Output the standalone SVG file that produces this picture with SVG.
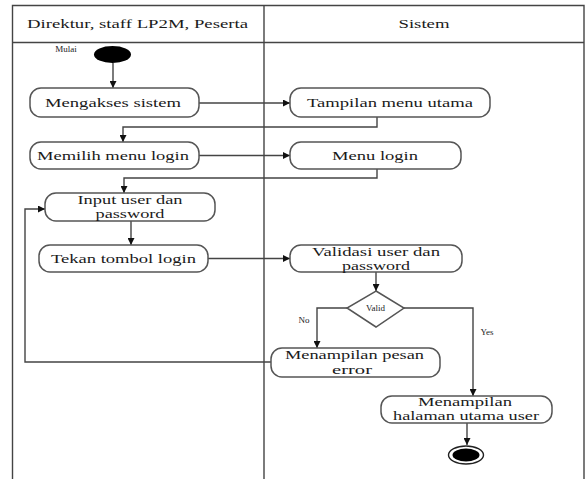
<svg xmlns="http://www.w3.org/2000/svg" width="585" height="479" viewBox="0 0 585 479" font-family="'Liberation Serif', 'Times New Roman', serif">
<defs>
<marker id="ah" viewBox="0 0 10 10" refX="10" refY="5" markerWidth="7" markerHeight="7" markerUnits="userSpaceOnUse" orient="auto">
<path d="M0,0 L10,5 L0,10 z" fill="#111"/>
</marker>
<style>
.lane{fill:none;stroke:#444;stroke-width:1.4}
.act{fill:#fff;stroke:#555;stroke-width:1.5}
text{font-family:'Liberation Serif','Times New Roman',serif}
.t{font-size:13px;fill:#1a1a1a;text-anchor:middle}
.s{font-size:9px;fill:#222;text-anchor:middle}
.ca{fill:none;stroke:#444;stroke-width:1.4;marker-end:url(#ah)}
</style>
</defs>
<rect width="585" height="479" fill="#fff"/>
<g id="swimlanes">
<path class="lane" d="M12.5,479 V5.5 H584 V479"/>
<line class="lane" x1="12" y1="42.5" x2="584" y2="42.5"/>
<line class="lane" x1="264" y1="5" x2="264" y2="479"/>
<text class="t" x="137.5" y="28" textLength="221" lengthAdjust="spacingAndGlyphs">Direktur, staff LP2M, Peserta</text>
<text class="t" x="424" y="28" textLength="51" lengthAdjust="spacingAndGlyphs">Sistem</text>
</g>
<g id="connectors">
<line class="ca" x1="113" y1="63" x2="113" y2="88"/>
<line class="ca" x1="199" y1="103" x2="290" y2="103"/>
<path class="ca" d="M377,117 V127 H123 V142"/>
<line class="ca" x1="199" y1="155.5" x2="290" y2="155.5"/>
<path class="ca" d="M377,169 V178 H124 V193"/>
<line class="ca" x1="131" y1="221" x2="131" y2="245"/>
<line class="ca" x1="208" y1="258.5" x2="290" y2="258.5"/>
<line class="ca" x1="376" y1="272" x2="376" y2="291"/>
<path class="ca" d="M347,308 H317 V348"/>
<path class="ca" d="M404,308 H473 V396"/>
<path class="ca" d="M271,362 H25 V209 H45"/>
<line class="ca" x1="467" y1="423" x2="467" y2="445"/>
<text class="s" x="304" y="323">No</text>
<text class="s" x="487" y="335">Yes</text>
</g>
<g id="start">
<ellipse cx="112.5" cy="54.5" rx="18.5" ry="8.5" fill="#000"/>
<text class="s" x="66" y="52">Mulai</text>
</g>
<g id="mengakses">
<rect class="act" x="30" y="88" width="169" height="29" rx="11"/>
<text class="t" x="113" y="107" textLength="136" lengthAdjust="spacingAndGlyphs">Mengakses sistem</text>
</g>
<g id="tampilan">
<rect class="act" x="290" y="88" width="200" height="29" rx="11"/>
<text class="t" x="390" y="107" textLength="166" lengthAdjust="spacingAndGlyphs">Tampilan menu utama</text>
</g>
<g id="memilih">
<rect class="act" x="30" y="142" width="169" height="27" rx="11"/>
<text class="t" x="113" y="160" textLength="152" lengthAdjust="spacingAndGlyphs">Memilih menu login</text>
</g>
<g id="menulogin">
<rect class="act" x="290" y="142" width="171" height="27" rx="11"/>
<text class="t" x="375" y="160" textLength="86" lengthAdjust="spacingAndGlyphs">Menu login</text>
</g>
<g id="input">
<rect class="act" x="45" y="193" width="170" height="28" rx="11"/>
<text class="t" x="130" y="204" textLength="105" lengthAdjust="spacingAndGlyphs">Input user dan</text>
<text class="t" x="130" y="218" textLength="69" lengthAdjust="spacingAndGlyphs">password</text>
</g>
<g id="tekan">
<rect class="act" x="39" y="245" width="169" height="27" rx="11"/>
<text class="t" x="123.5" y="263" textLength="145" lengthAdjust="spacingAndGlyphs">Tekan tombol login</text>
</g>
<g id="validasi">
<rect class="act" x="290" y="245" width="172" height="27" rx="11"/>
<text class="t" x="376" y="256" textLength="128" lengthAdjust="spacingAndGlyphs">Validasi user dan</text>
<text class="t" x="376" y="270" textLength="68" lengthAdjust="spacingAndGlyphs">password</text>
</g>
<g id="valid">
<path class="act" d="M376,291 L404,308 L376,327 L347,308 z"/>
<text class="s" x="375.5" y="311">Valid</text>
</g>
<g id="error">
<rect class="act" x="271" y="348" width="169" height="29" rx="11"/>
<text class="t" x="354.5" y="359" textLength="139" lengthAdjust="spacingAndGlyphs">Menampilan pesan</text>
<text class="t" x="352" y="374" textLength="40" lengthAdjust="spacingAndGlyphs">error</text>
</g>
<g id="halaman">
<rect class="act" x="381" y="396" width="171" height="27" rx="11"/>
<text class="t" x="465" y="406" textLength="94" lengthAdjust="spacingAndGlyphs">Menampilan</text>
<text class="t" x="466" y="420" textLength="146" lengthAdjust="spacingAndGlyphs">halaman utama user</text>
</g>
<g id="end">
<ellipse cx="466" cy="455" rx="17.5" ry="9" fill="#fff" stroke="#222" stroke-width="1.4"/>
<ellipse cx="466" cy="455" rx="13.5" ry="6.5" fill="#000"/>
</g>
</svg>
